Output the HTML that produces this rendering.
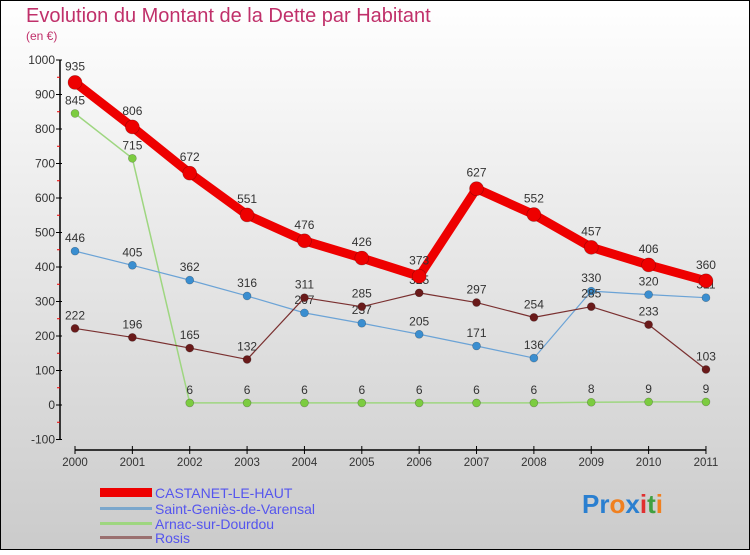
<!DOCTYPE html>
<html><head><meta charset="utf-8"><style>
body{margin:0}
svg text{font-family:"Liberation Sans",sans-serif}
</style></head><body>
<svg id="c" width="750" height="550" xmlns="http://www.w3.org/2000/svg">
<defs><linearGradient id="bg" x1="0" y1="0" x2="0" y2="1"><stop offset="0" stop-color="#ffffff"/><stop offset="1" stop-color="#cbcbcb"/></linearGradient></defs>
<rect x="0.5" y="0.5" width="749" height="549" fill="url(#bg)" stroke="#000"/>
<text x="26" y="22" font-size="20" fill="#c0306a">Evolution du Montant de la Dette par Habitant</text>
<text x="26" y="40" font-size="12" fill="#c0306a">(en €)</text>
<g id="axes"></g><g id="series"></g>
<g>
<rect x="100" y="488" width="52" height="9" fill="#e00"/>
<text x="155" y="498" font-size="14" fill="#5555ee">CASTANET-LE-HAUT</text>
<rect x="100" y="507" width="52" height="3" fill="#7ba7cc"/>
<text x="155" y="514" font-size="14" fill="#5555ee">Saint-Geniès-de-Varensal</text>
<rect x="100" y="522" width="52" height="3" fill="#9ed680"/>
<text x="155" y="529" font-size="14" fill="#5555ee">Arnac-sur-Dourdou</text>
<rect x="100" y="536" width="52" height="3" fill="#9a7070"/>
<text x="155" y="543" font-size="14" fill="#5555ee">Rosis</text>
</g>
<text x="582" y="513" font-size="26" font-weight="bold"><tspan fill="#2a7fd0">Pr</tspan><tspan fill="#f08020">o</tspan><tspan fill="#2a7fd0">x</tspan><tspan fill="#e03030">i</tspan><tspan fill="#40a040">t</tspan><tspan fill="#f08020">i</tspan></text>
</svg>
<script>
const years=[2000,2001,2002,2003,2004,2005,2006,2007,2008,2009,2010,2011];
const yTicks=[-100,0,100,200,300,400,500,600,700,800,900,1000];
const castanet=[935,806,672,551,476,426,373,627,552,457,406,360];
const saintGenies=[446,405,362,316,267,237,205,171,136,330,320,311];
const arnac=[845,715,6,6,6,6,6,6,6,8,9,9];
const rosis=[222,196,165,132,311,285,325,297,254,285,233,103];
const NS="http://www.w3.org/2000/svg";
const X=i=>75+i*57.36, Y=v=>405-v*0.345;
function mk(t,a,p){const e=document.createElementNS(NS,t);for(const k in a)e.setAttribute(k,a[k]);p.appendChild(e);return e;}
const ax=document.getElementById('axes'), sr=document.getElementById('series');
mk('line',{x1:60,y1:Y(1000),x2:60,y2:Y(-100),stroke:'#000','stroke-width':1.5},ax);
yTicks.forEach(v=>{mk('line',{x1:56,y1:Y(v),x2:62,y2:Y(v),stroke:'#000'},ax);
 if(v<1000)mk('line',{x1:57,y1:Y(v+50),x2:60,y2:Y(v+50),stroke:'#e00'},ax);
 const t=mk('text',{x:55,y:Y(v)+4,'text-anchor':'end','font-size':12,fill:'#333'},ax);t.textContent=v;
 
 });
mk('line',{x1:X(0),y1:450,x2:X(11),y2:450,stroke:'#000','stroke-width':1.5},ax);
years.forEach((y,i)=>{mk('line',{x1:X(i),y1:446,x2:X(i),y2:454,stroke:'#000'},ax);
 const t=mk('text',{x:X(i),y:466,'text-anchor':'middle','font-size':11.5,fill:'#333'},ax);t.textContent=y;
 
 });
function series(d,name,col,dot,w,r){
 const g=mk('g',{},sr);
 
 
 mk('polyline',{points:d.map((v,i)=>X(i)+','+Y(v)).join(' '),fill:'none',stroke:col,'stroke-width':w,'stroke-linejoin':'round'},g);
 d.forEach((v,i)=>{const c=mk('circle',{cx:X(i),cy:Y(v),r:r,fill:dot,stroke:'rgba(0,0,0,0.3)','stroke-width':0.6},g);
  
  
  const t=mk('text',{x:X(i),y:Y(v)-r-5,'text-anchor':'middle','font-size':12,fill:'#333'},g);t.textContent=v;
  
  });
}
series(arnac,'arnac','#9ed680','#7ccc40',1.5,4);
series(saintGenies,'saint-genies','#6ba3d6','#3a8ed0',1.2,4);
series(rosis,'rosis','#7a3030','#6a1a1a',1.2,4);
series(castanet,'castanet','#ee0000','#ee0000',9,7);
</script>
</body></html>
